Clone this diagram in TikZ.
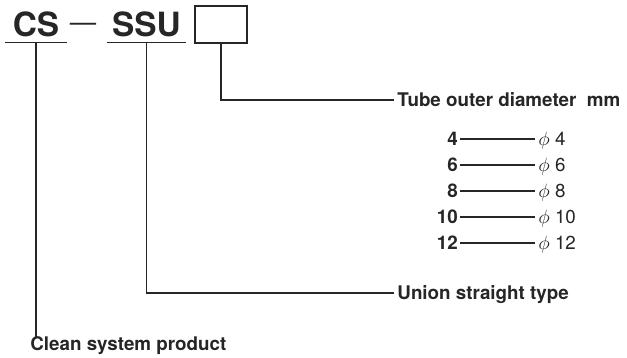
\documentclass[tikz,border=0pt]{standalone}
\usepackage{fontspec}
\setmainfont{TeX Gyre Heros}
\usepackage{xcolor}
\usepackage{tikz}
\usetikzlibrary{positioning}
\definecolor{tinta}{RGB}{38,38,38}
\tikzset{
  codigo/.style={inner xsep=0pt,inner ysep=2.8pt,text height=13.6pt,text depth=0pt,
    font=\fontsize{19}{22}\selectfont\bfseries,text=tinta},
  caixa/.style={draw=tinta,line width=0.7pt,minimum width=29.5pt,minimum height=21pt,inner sep=0pt},
  rotulo/.style={inner xsep=1.7pt,inner ysep=0pt,text height=7.7pt,text depth=0pt,
    font=\fontsize{10.7}{12}\selectfont\bfseries,text=tinta},
  num/.style={inner xsep=1pt,inner ysep=0pt,text height=7.7pt,text depth=0pt,
    font=\fontsize{10.7}{12}\selectfont\bfseries,text=tinta,anchor=east},
  diam/.style={inner xsep=1.7pt,inner ysep=0pt,text height=7.7pt,text depth=0pt,
    font=\fontsize{10.7}{12}\selectfont,text=tinta,anchor=west},
  linha/.style={draw=tinta,line width=0.65pt}
}
\begin{document}
\begin{tikzpicture}[x=0.02cm,y=-0.02cm]
  \useasboundingbox (0,0) rectangle (627,358);
  % codigo
  \node[codigo,minimum width=35pt,anchor=base] (cs) at (36,37) {CS};
  \node[font=\fontsize{15}{18}\selectfont,text=tinta,inner sep=0pt] (hifen) at (83,27) {\textemdash};
  \node[codigo,minimum width=44.8pt,anchor=base] (ssu) at (146.5,37) {SSU};
  \node[caixa] (box) at (221,24.5) {};
  \draw[linha] (cs.south west) -- (cs.south east);
  \draw[linha] (ssu.south west) -- (ssu.south east);
  % rotulos
  \node[rotulo,anchor=west] (tubo) at (394,100) {Tube outer diameter\ \ mm};
  \node[rotulo,anchor=west] (uniao) at (394,293) {Union straight type};
  \node[rotulo,anchor=north west] (limpo) at (27,337) {Clean system product};
  \draw[linha] (box.south) |- (tubo.west);
  \draw[linha] (ssu.south) |- (uniao.west);
  \draw[linha] (cs.south) -- (cs.south |- limpo.north);
  % tabela
  \foreach \n/\y in {4/139,6/165,8/191,10/217,12/243}
    {\node[num] (n\n) at (460,\y) {\n};
     \node[diam] (d\n) at (535,\y) {$\phi$\ \n};
     \draw[linha] (n\n.east) -- (n\n.east -| d\n.west);}
\end{tikzpicture}
\end{document}
